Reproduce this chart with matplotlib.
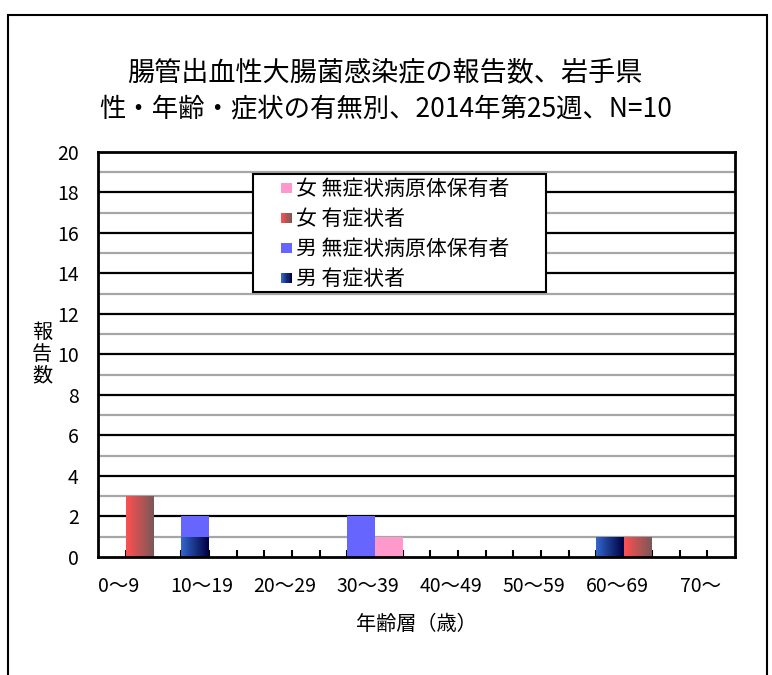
import numpy as np
import matplotlib
matplotlib.use("Agg")
import matplotlib.pyplot as plt
from matplotlib.patches import Rectangle
from matplotlib.colors import LinearSegmentedColormap
from matplotlib.legend_handler import HandlerBase

plt.rcParams['font.family'] = ['Noto Sans CJK JP', 'DejaVu Sans']

# data
age_groups = ['0〜9', '10〜19', '20〜29', '30〜39', '40〜49', '50〜59', '60〜69', '70〜']
male_sym = [0, 1, 0, 0, 0, 0, 1, 0]
male_asym = [0, 1, 0, 2, 0, 0, 0, 0]
female_sym = [3, 0, 0, 0, 0, 0, 1, 0]
female_asym = [0, 0, 0, 1, 0, 0, 0, 0]

series_labels = ['女 無症状病原体保有者', '女 有症状者', '男 無症状病原体保有者', '男 有症状者']

pink = '#FF99CC'
blue = '#6666FF'
red_grad = ['#FF5050', '#7A5858']
navy_grad = ['#3366CC', '#000040']

fig = plt.figure(figsize=(7.72, 6.75), dpi=100)
ax = fig.add_axes([0.127, 0.175, 0.825, 0.600])

# outer frame of the chart area
fig.patches.append(Rectangle((8 / 772, -0.2), (767 - 8) / 772, 1.2 - 15 / 675,
                             transform=fig.transFigure, fill=False,
                             edgecolor='black', linewidth=1.5))

n = len(age_groups)
xm = np.arange(n) * 3 + 0.5
xf = xm + 1


def gradient_bars(bars, colors):
    cmap = LinearSegmentedColormap.from_list('g', colors)
    grad = np.linspace(0, 1, 64).reshape(1, -1)
    for b in bars:
        h = b.get_height()
        if h <= 0:
            continue
        x0, y0 = b.get_x(), b.get_y()
        im = ax.imshow(grad, cmap=cmap, aspect='auto',
                       extent=[x0, x0 + b.get_width(), y0, y0 + h],
                       zorder=3, interpolation='bilinear')
        im.set_clip_path(b)
        b.set_facecolor('none')


bm = ax.bar(xm, male_sym, width=1, color=navy_grad[0], zorder=3)
ax.bar(xm, male_asym, width=1, bottom=male_sym, color=blue, zorder=3)
bf = ax.bar(xf, female_sym, width=1, color=red_grad[0], zorder=3)
ax.bar(xf, female_asym, width=1, bottom=female_sym, color=pink, zorder=3)
gradient_bars(bm, navy_grad)
gradient_bars(bf, red_grad)

ax.set_xlim(0, 23)
ax.set_ylim(0, 20)

# gridlines: black at even values, gray at odd
for v in range(1, 20):
    ax.axhline(v, color='black' if v % 2 == 0 else '#A6A6A6', lw=1.6, zorder=1)

ax.set_yticks(range(0, 21, 2))
ax.tick_params(axis='y', length=0, labelsize=14, pad=14)
ax.set_xticks(range(1, 23), minor=True)
ax.set_xticks(np.arange(n) * 3 + 0.75)
ax.set_xticklabels(age_groups, fontsize=14)
ax.tick_params(axis='x', which='major', length=0, pad=14)
ax.tick_params(axis='x', which='minor', direction='in', length=5, width=1.5)
for s in ax.spines.values():
    s.set_linewidth(2)
    s.set_zorder(5)

ax.set_ylabel('報\n告\n数', rotation=0, fontsize=14.5, va='center',
              linespacing=1.05)
ax.yaxis.set_label_coords(-0.088, 0.5)
ax.set_xlabel('年齢層（歳）', fontsize=14.5, labelpad=12)

fig.text(0.499, 0.892, '腸管出血性大腸菌感染症の報告数、岩手県',
         ha='center', va='center', fontsize=19.5)
fig.text(0.499, 0.837, '性・年齢・症状の有無別、2014年第25週、N=10',
         ha='center', va='center', fontsize=19)


class SquareHandler(HandlerBase):
    # small square at the right end of the handle area, optional gradient
    def __init__(self, colors):
        super().__init__()
        self.colors = colors

    def create_artists(self, legend, orig_handle, xdescent, ydescent,
                       width, height, fontsize, trans):
        cmap = LinearSegmentedColormap.from_list('g', self.colors)
        side = 7.5
        x0 = -xdescent + width - side
        y0 = -ydescent + (height - side) / 2
        k = 10
        arts = []
        for i in range(k):
            arts.append(Rectangle((x0 + side * i / k, y0), side / k + 0.2, side,
                                  facecolor=cmap(i / (k - 1)), edgecolor='none',
                                  transform=trans))
        return arts


h_pink = Rectangle((0, 0), 1, 1, color=pink)
h_red = Rectangle((0, 0), 1, 1, color=red_grad[0])
h_blue = Rectangle((0, 0), 1, 1, color=blue)
h_navy = Rectangle((0, 0), 1, 1, color=navy_grad[0])

# legend frame drawn separately to get the wide box
ax.add_patch(Rectangle((0.243, 0.654), 0.46, 0.291, transform=ax.transAxes,
                       facecolor='white', edgecolor='black', linewidth=1.5,
                       zorder=5.5, clip_on=False))
leg = ax.legend([h_pink, h_red, h_blue, h_navy], series_labels,
                handler_map={h_pink: SquareHandler([pink, pink]),
                             h_red: SquareHandler(red_grad),
                             h_blue: SquareHandler([blue, blue]),
                             h_navy: SquareHandler(navy_grad)},
                loc='upper left', bbox_to_anchor=(0.25, 0.94), borderaxespad=0,
                fontsize=15, handlelength=1.55, handleheight=0.7, handletextpad=0.2,
                labelspacing=0.38, borderpad=0.1, frameon=False)
leg.set_zorder(6)

fig.savefig('out.png', dpi=100)
